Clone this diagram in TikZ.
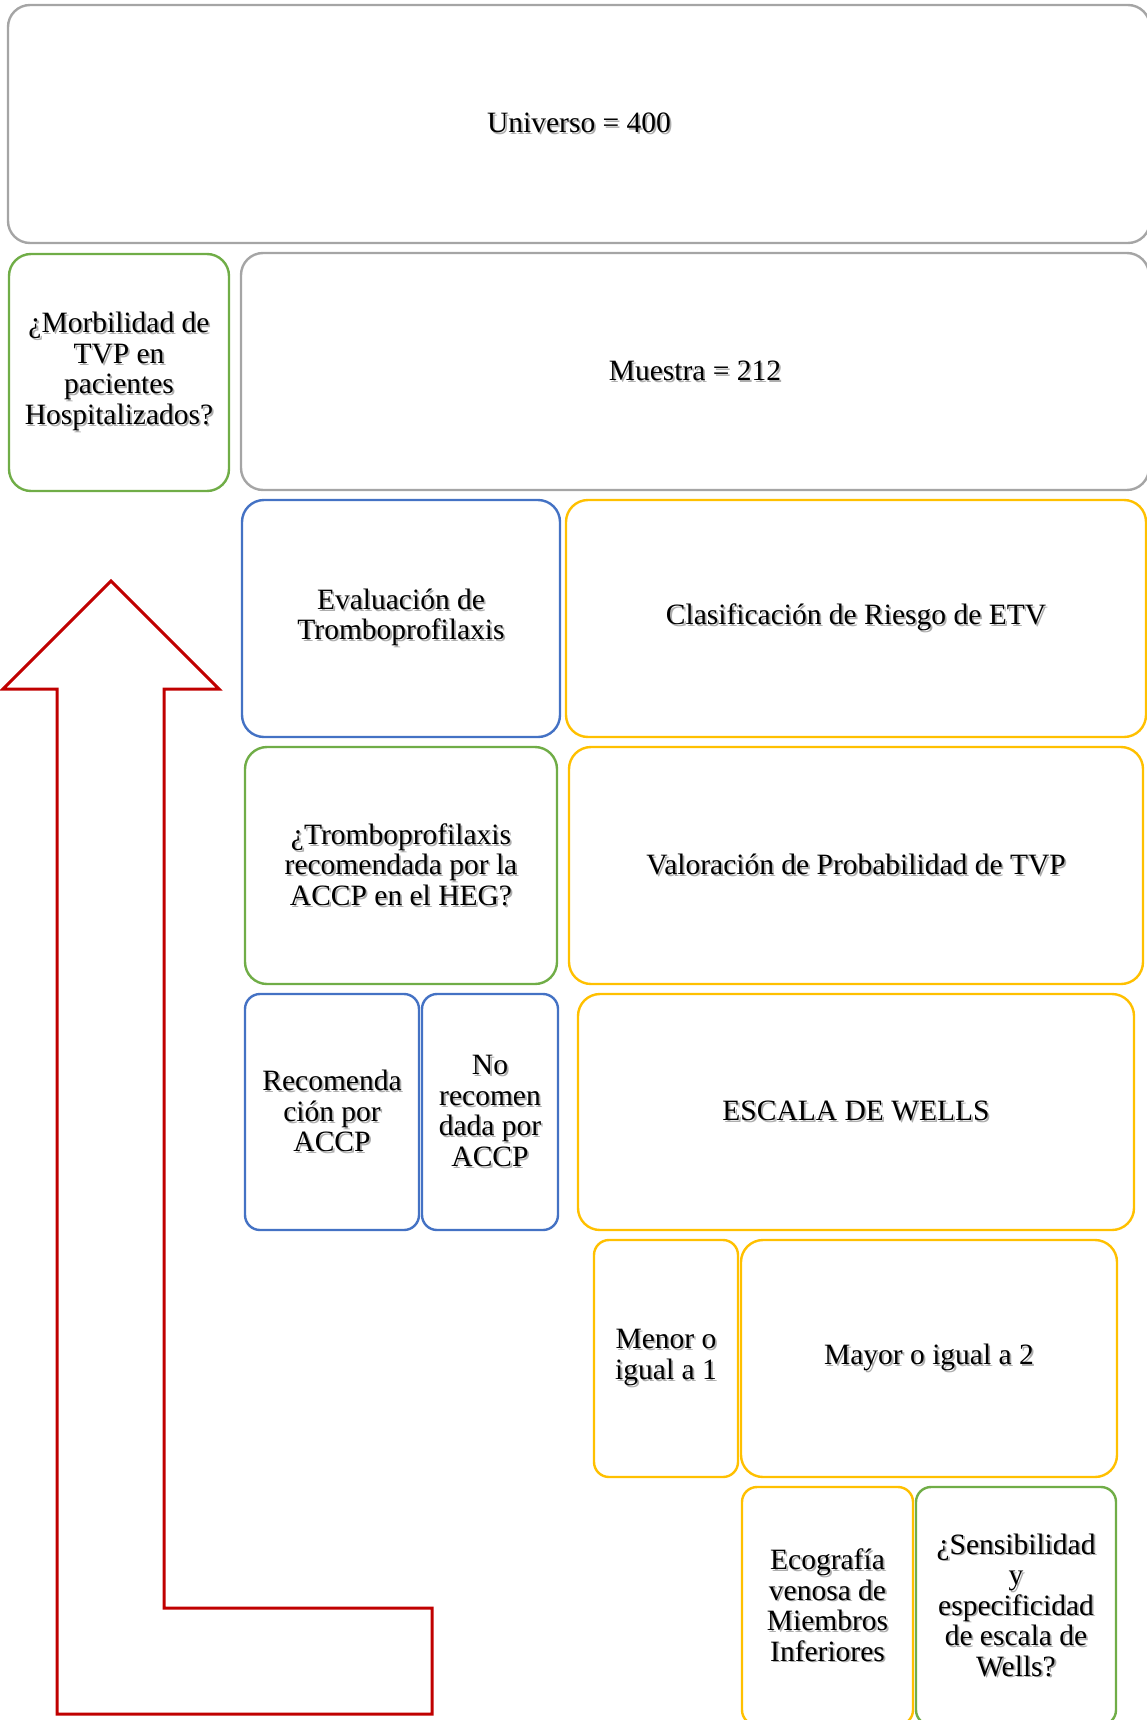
\documentclass[tikz,border=0pt]{standalone}
\usepackage{fontspec}
\setmainfont{Liberation Serif}
\usetikzlibrary{positioning}

\definecolor{boxgray}{HTML}{A5A5A5}
\definecolor{boxgreen}{HTML}{70AD47}
\definecolor{boxblue}{HTML}{4472C4}
\definecolor{boxgold}{HTML}{FFC000}
\definecolor{arrowred}{HTML}{C00000}

% text with a soft drop shadow
\newcommand\sh[1]{\leavevmode\rlap{\hspace{1.8pt}\raisebox{-1.8pt}{\textcolor{black!32}{#1}}}#1}

\tikzset{
  card/.style={draw=#1, line width=2.4pt, rounded corners=22pt, fill=white,
    inner sep=0pt, align=center, anchor=center,
    font=\fontsize{29.5}{30.5}\selectfont},
  slim/.style={rounded corners=15pt},
  bigarrow/.style={draw=arrowred, line width=3pt, line join=miter}
}

\begin{document}
\begin{tikzpicture}[x=1pt, y=-1pt]
\useasboundingbox (0,0) rectangle (1147,1720);
\clip (0,0) rectangle (1147,1720);

% population and sample
\node[card=boxgray, minimum width=1142pt, minimum height=238pt] (universo) at (579,124) {\sh{Universo = 400}};
\node[card=boxgreen, minimum width=220pt, minimum height=237pt] (morbilidad) at (119,372.5)
  {\sh{¿Morbilidad de}\\\sh{TVP en}\\\sh{pacientes}\\\sh{Hospitalizados?}};
\node[card=boxgray, minimum width=908pt, minimum height=237pt] (muestra) at (695,371.5) {\sh{Muestra = 212}};

% thromboprophylaxis branch
\node[card=boxblue, minimum width=318pt, minimum height=237pt] (evaluacion) at (401,618.5)
  {\sh{Evaluación de}\\\sh{Tromboprofilaxis}};
\node[card=boxgreen, minimum width=312pt, minimum height=237pt] (trombo) at (401,865.5)
  {\sh{¿Tromboprofilaxis}\\\sh{recomendada por la}\\\sh{ACCP en el HEG?}};
\node[card=boxblue, slim, minimum width=174pt, minimum height=236pt] (recom) at (332,1112)
  {\sh{Recomenda}\\\sh{ción por}\\\sh{ACCP}};
\node[card=boxblue, slim, minimum width=136pt, minimum height=236pt] (norecom) at (490,1112)
  {\sh{No}\\\sh{recomen}\\\sh{dada por}\\\sh{ACCP}};

% risk / probability branch
\node[card=boxgold, minimum width=580pt, minimum height=237pt] (clasif) at (856,618.5)
  {\sh{Clasificación de Riesgo de ETV}};
\node[card=boxgold, minimum width=574pt, minimum height=237pt] (valor) at (856,865.5)
  {\sh{Valoración de Probabilidad de TVP}};
\node[card=boxgold, minimum width=556pt, minimum height=236pt] (wells) at (856,1112)
  {\sh{ESCALA DE WELLS}};
\node[card=boxgold, slim, minimum width=144pt, minimum height=237pt] (menor) at (666,1358.5)
  {\sh{Menor o}\\\sh{igual a 1}};
\node[card=boxgold, minimum width=376pt, minimum height=237pt] (mayor) at (929,1358.5)
  {\sh{Mayor o igual a 2}};
\node[card=boxgold, slim, minimum width=171pt, minimum height=238pt] (eco) at (827.5,1606)
  {\sh{Ecografía}\\\sh{venosa de}\\\sh{Miembros}\\\sh{Inferiores}};
\node[card=boxgreen, slim, minimum width=200pt, minimum height=238pt] (sens) at (1016,1606)
  {\sh{¿Sensibilidad}\\\sh{y}\\\sh{especificidad}\\\sh{de escala de}\\\sh{Wells?}};

% bent upward arrow on the left
\draw[bigarrow] (57,689) -- (3,689) -- (111,581) -- (219,689) -- (164,689)
  -- (164,1608) -- (432,1608) -- (432,1714) -- (57,1714) -- cycle;
\end{tikzpicture}
\end{document}
